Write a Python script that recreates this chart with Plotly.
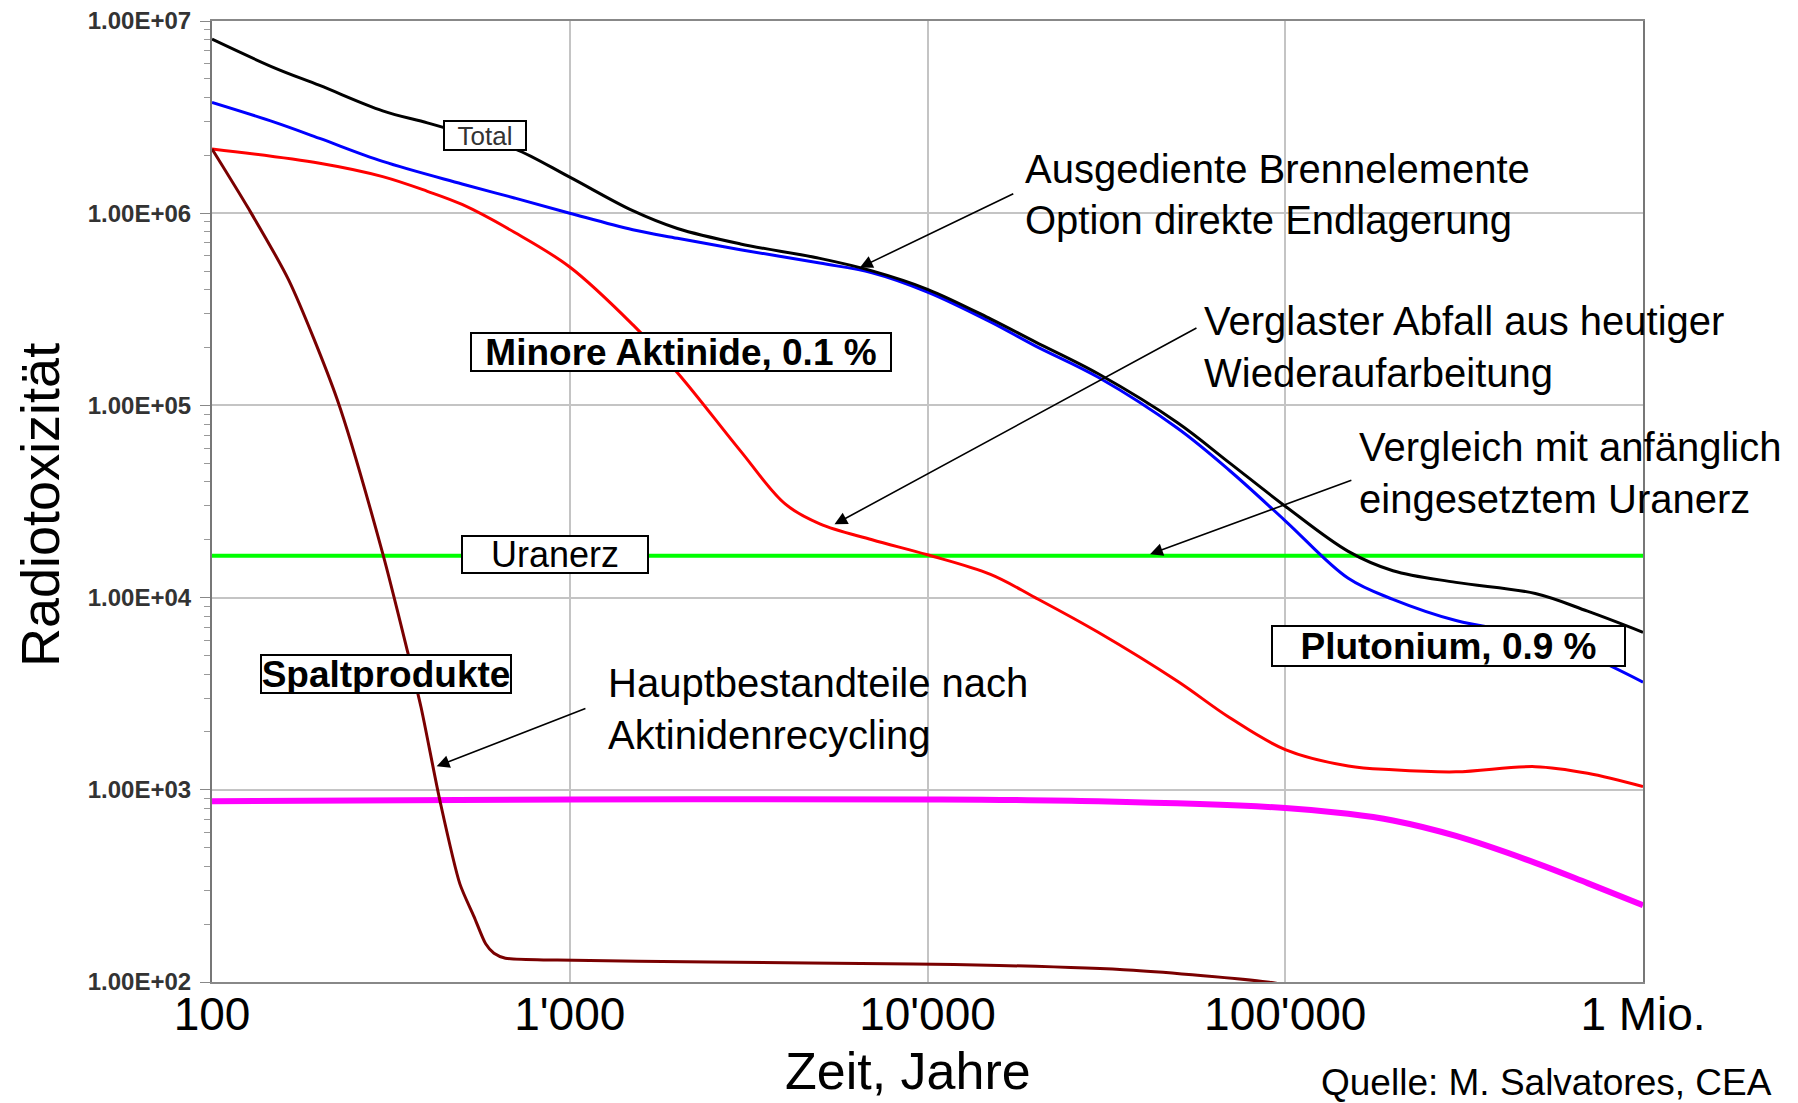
import plotly.graph_objects as go

# ---------------- data ----------------
total_x = [100, 150, 200, 300, 400, 500, 700, 1000, 1500, 2000, 3000, 5000, 7000,
           1e4, 1.5e4, 2e4, 3e4, 5e4, 7e4, 1e5, 1.5e5, 2e5, 3e5, 5e5, 7e5, 1e6]
total_y = [8.04e6, 5.69e6, 4.62e6, 3.41e6, 2.95e6, 2.61e6, 2.17e6, 1.54e6, 1.03e6, 8.32e5,
           6.92e5, 5.82e5, 5.01e5, 4.02e5, 2.82e5, 2.14e5, 1.46e5, 8.13e4, 5.01e4, 2.99e4,
           1.74e4, 1.38e4, 1.20e4, 1.05e4, 8.5e3, 6.6e3]

pu_x = [100, 150, 200, 300, 500, 700, 1000, 1500, 2000, 3000, 5000, 7000,
        1e4, 1.5e4, 2e4, 3e4, 5e4, 7e4, 1e5, 1.5e5, 2e5, 3e5, 5e5, 7e5, 1e6]
pu_y = [3.77e6, 2.97e6, 2.45e6, 1.86e6, 1.42e6, 1.20e6, 1.0e6, 8.2e5, 7.4e5, 6.46e5,
        5.5e5, 4.9e5, 3.89e5, 2.72e5, 2.04e5, 1.40e5, 7.6e4, 4.57e4, 2.51e4, 1.26e4,
        9.8e3, 7.6e3, 6.3e3, 5.0e3, 3.63e3]

ma_x = [100, 200, 300, 400, 500, 700, 1000, 1500, 2000, 3000, 4000, 5000, 7000,
        1e4, 1.5e4, 2e4, 3e4, 5e4, 7e4, 1e5, 1.5e5, 2e5, 3e5, 5e5, 7e5, 1e6]
ma_y = [2.16e6, 1.82e6, 1.55e6, 1.30e6, 1.11e6, 7.96e5, 5.25e5, 2.63e5, 1.48e5, 5.8e4,
        3.07e4, 2.42e4, 2.0e4, 1.67e4, 1.32e4, 1.0e4, 6.6e3, 3.67e3, 2.37e3, 1.62e3,
        1.33e3, 1.27e3, 1.24e3, 1.32e3, 1.22e3, 1.04e3]

ore_x = [100, 1e6]
ore_y = [1.65e4, 1.65e4]

recyc_x = [100, 1000, 1e4, 3e4, 1e5, 1.5e5, 2e5, 3e5, 5e5, 7e5, 1e6]
recyc_y = [871, 891, 891, 871, 804, 750, 692, 575, 417, 327, 251]

fp_x = [100, 126, 164, 224, 300, 352, 384, 434, 493, 540, 582, 614, 661, 923,
        2455, 9120, 15850, 37600, 89000, 120000]
fp_y = [2.16e6, 1.07e6, 4.47e5, 1.07e5, 1.70e4, 5.25e3, 2.69e3, 871, 324, 219,
        158, 141, 133, 130, 127, 124, 122, 115, 100, 91]

x_tickvals = [100, 1000, 1e4, 1e5, 1e6]
x_ticktext = ["100", "1'000", "10'000", "100'000", "1 Mio."]
y_tickvals = [1e2, 1e3, 1e4, 1e5, 1e6, 1e7]
y_ticktext = ["1.00E+02", "1.00E+03", "1.00E+04", "1.00E+05", "1.00E+06", "1.00E+07"]

# ---------------- layout geometry (reference pixel space) ----------------
W, H = 1798, 1103
L, R, T, B = 212, 1643, 21, 982


def paper(xf, yf):
    return (xf - L) / (R - L), (B - yf) / (B - T)


SANS = "Liberation Sans, Arial, sans-serif"

fig = go.Figure()


def add_line(x, y, color, width, smoothing=1.0):
    fig.add_trace(go.Scatter(x=x, y=y, mode="lines",
                             line=dict(color=color, width=width, shape="spline", smoothing=smoothing),
                             hoverinfo="skip", showlegend=False))


add_line(recyc_x, recyc_y, "#ff00ff", 6)
add_line(ore_x, ore_y, "#00ff00", 4)
add_line(ma_x, ma_y, "#ff0000", 3)
add_line(pu_x, pu_y, "#0000ff", 3)
add_line(total_x, total_y, "#000000", 3)
add_line(fp_x, fp_y, "#7a0000", 3, smoothing=0.7)

annotations = []

# boxed labels
boxes = [
    ("Total", 485, 135, 80, 27, 26, "normal", "#333333"),
    ("Minore Aktinide, 0.1 %", 681, 352, 418, 36, 37, "bold", "#000000"),
    ("Uranerz", 555, 554, 184, 35, 36, "normal", "#000000"),
    ("Spaltprodukte", 386, 674, 248, 36, 37, "bold", "#000000"),
    ("Plutonium, 0.9 %", 1448, 646, 351, 38, 37, "bold", "#000000"),
]
for text, xf, yf, w, h, fs, wt, col in boxes:
    px, py = paper(xf, yf)
    annotations.append(dict(xref="paper", yref="paper", x=px, y=py, text=text,
                            showarrow=False, xanchor="center", yanchor="middle",
                            width=w, height=h, bgcolor="white", bordercolor="#000000",
                            borderwidth=2, borderpad=0,
                            font=dict(family=SANS, size=fs, color=col, weight=wt)))

# free text lines
lines = [
    ("Ausgediente Brennelemente", 1023, 168.6),
    ("Option direkte Endlagerung", 1023, 220.2),
    ("Verglaster Abfall aus heutiger", 1202, 321),
    ("Wiederaufarbeitung", 1202, 372.7),
    ("Vergleich mit anfänglich", 1356.5, 447),
    ("eingesetztem Uranerz", 1356.5, 498.8),
    ("Hauptbestandteile nach", 605.5, 683.4),
    ("Aktinidenrecycling", 605.5, 735),
]
for text, xf, yf in lines:
    px, py = paper(xf, yf)
    annotations.append(dict(xref="paper", yref="paper", x=px, y=py, text=text,
                            showarrow=False, xanchor="left", yanchor="middle",
                            font=dict(family=SANS, size=40, color="black")))

# arrows (head, tail) in log10 data coords
arrows = [
    ((3.811, 5.717), (4.244, 6.105)),
    ((3.740, 4.381), (4.756, 5.407)),
    ((4.622, 4.226), (5.189, 4.613)),
    ((2.628, 3.122), (3.048, 3.426)),
]
for (hx, hy), (tx, ty) in arrows:
    annotations.append(dict(x=hx, y=hy, xref="x", yref="y", ax=tx, ay=ty,
                            axref="x", ayref="y", text="", showarrow=True,
                            arrowhead=2, arrowsize=1.6, arrowwidth=1.6, arrowcolor="black"))

# axis titles and source
px, py = paper(908, 1071)
annotations.append(dict(xref="paper", yref="paper", x=px, y=py, text="Zeit, Jahre",
                        showarrow=False, xanchor="center", yanchor="middle",
                        font=dict(family=SANS, size=52, color="black")))
px, py = paper(40, 505)
annotations.append(dict(xref="paper", yref="paper", x=px, y=py, text="Radiotoxizität",
                        showarrow=False, xanchor="center", yanchor="middle", textangle=-90,
                        font=dict(family=SANS, size=54, color="black")))
px, py = paper(1774, 1082)
annotations.append(dict(xref="paper", yref="paper", x=px, y=py, text="Quelle: M. Salvatores, CEA",
                        showarrow=False, xanchor="right", yanchor="middle",
                        font=dict(family=SANS, size=37, color="black")))

fig.update_layout(
    width=W, height=H, autosize=False,
    margin=dict(l=L, r=W - R, t=T, b=H - B, autoexpand=False),
    plot_bgcolor="white", paper_bgcolor="white",
    annotations=annotations,
    xaxis=dict(type="log", range=[2, 6], tickvals=x_tickvals, ticktext=x_ticktext,
               tickfont=dict(family=SANS, size=46, color="black"),
               ticklabelstandoff=-9,
               showgrid=True, gridcolor="#c4c4c4", gridwidth=2,
               showline=True, linecolor="#888888", linewidth=2, mirror=True,
               ticks="", zeroline=False),
    yaxis=dict(type="log", range=[2, 7], tickvals=y_tickvals, ticktext=y_ticktext,
               tickfont=dict(family=SANS, size=24, color="#333333", weight="bold"),
               ticklabelstandoff=4, ticklabeloverflow="allow",
               showgrid=True, gridcolor="#c4c4c4", gridwidth=2,
               showline=True, linecolor="#777777", linewidth=2, mirror=True,
               ticks="outside", ticklen=10, tickcolor="#888888", tickwidth=1,
               minor=dict(ticks="outside", ticklen=6, tickcolor="#999999", dtick="D1",
                          showgrid=False),
               zeroline=False),
)

fig.write_html("out.html", config={"displayModeBar": False},
               post_script="document.body.style.margin='0';document.body.style.overflow='hidden';")
